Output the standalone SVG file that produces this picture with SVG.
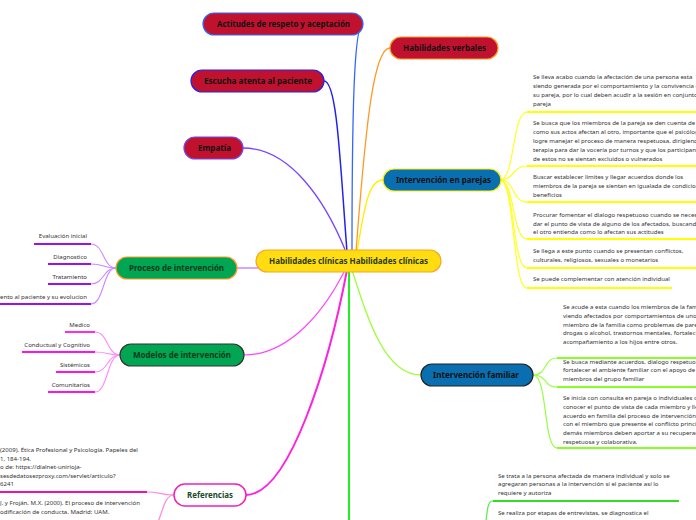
<svg xmlns="http://www.w3.org/2000/svg" width="696" height="520" viewBox="0 0 696 520">
<style>
.n{font-family:"Noto Sans","Open Sans",sans-serif;font-weight:bold;font-size:9px;text-anchor:middle}
.s{font-family:"Noto Sans","Open Sans",sans-serif;font-size:6.05px;fill:#333}
.e{text-anchor:end}
.c{fill:none}
</style>
<rect width="696" height="520" fill="#fff"/>
<g id="connectors" class="c">
  <path d="M363,24 C355,24 352,90 352,252" stroke="#3366ff" stroke-width="1.3"/>
  <path d="M324,81 C337,81 340,160 347,252" stroke="#2222ee" stroke-width="1.5"/>
  <path d="M243,148 C290,148 325,200 346,252" stroke="#7744ff" stroke-width="1.3"/>
  <path d="M390,48 C374,48 366,120 356,252" stroke="#ff9922" stroke-width="1.3"/>
  <path d="M383,180 C368,180 364,210 357,252" stroke="#ffee00" stroke-width="1.3"/>
  <path d="M237,268 L300,268" stroke="#cc88ff" stroke-width="1.5"/>
  <path d="M244,355 C290,355 325,310 345,270" stroke="#ff44ff" stroke-width="1.2"/>
  <path d="M246,495 C290,495 330,360 347,270" stroke="#ff22dd" stroke-width="2"/>
  <path d="M349,268 L349,520" stroke="#22ee22" stroke-width="2"/>
  <path d="M421,375 C385,375 368,320 352,270" stroke="#99ff33" stroke-width="1.3"/>
  <g stroke="#ffff22" stroke-width="1.2">
    <path d="M500,180 C515,180 512,112 527,112"/>
    <path d="M500,180 C515,180 512,166 527,166"/>
    <path d="M500,180 C515,180 512,202 527,202"/>
    <path d="M500,180 C515,180 512,239 527,239"/>
    <path d="M500,180 C515,180 512,268 527,268"/>
    <path d="M500,180 C515,180 512,288 527,288"/>
  </g>
  <g stroke="#ffff00" stroke-width="2">
    <path d="M527,112 L696,112"/><path d="M527,166 L696,166"/><path d="M527,202 L696,202"/>
    <path d="M527,239 L696,239"/><path d="M527,268 L696,268"/><path d="M527,288 L672,288"/>
  </g>
  <g stroke="#99ff44" stroke-width="1.2">
    <path d="M533,375 C548,375 543,358 557,358"/>
    <path d="M533,375 C548,375 543,387 557,387"/>
    <path d="M533,375 C548,375 543,448 557,448"/>
  </g>
  <g stroke="#88ff22" stroke-width="2">
    <path d="M557,358 L696,358"/><path d="M557,387 L696,387"/><path d="M557,448 L696,448"/>
  </g>
  <path d="M493,501 C486,501 488,515 485,525" stroke="#55ee44" stroke-width="1.2"/>
  <path d="M493,501 L679,501" stroke="#33dd22" stroke-width="2"/>
  <g stroke="#cc88ff" stroke-width="1.1">
    <path d="M116,268 C103,268 104,244 91,244"/>
    <path d="M116,268 C103,268 104,264 91,264"/>
    <path d="M116,268 C103,268 104,284 91,284"/>
    <path d="M116,268 C103,268 104,304 91,304"/>
  </g>
  <g stroke="#9911ee" stroke-width="1.8">
    <path d="M34,244 L91,244"/><path d="M48,264 L91,264"/><path d="M48,284 L91,284"/><path d="M0,304 L91,304"/>
  </g>
  <g stroke="#ff88ff" stroke-width="1.1">
    <path d="M120,355 C107,355 108,332 95,332"/>
    <path d="M120,355 C107,355 108,352 95,352"/>
    <path d="M120,355 C107,355 108,372 95,372"/>
    <path d="M120,355 C107,355 108,392 95,392"/>
  </g>
  <g stroke="#ff11ee" stroke-width="1.8">
    <path d="M65,332 L95,332"/><path d="M22,352 L95,352"/><path d="M56,372 L95,372"/><path d="M48,392 L95,392"/>
  </g>
  <path d="M174,495 C160,495 160,492 147,492" stroke="#ff88dd" stroke-width="1.2"/>
  <path d="M174,495 C165,495 163,510 158,522" stroke="#ff88dd" stroke-width="1.2"/>
  <path d="M0,492 L147,492" stroke="#ee11aa" stroke-width="2"/>
</g>

<g id="center">
  <rect x="256" y="250" width="185" height="22" rx="11" fill="#ffdd11" stroke="#f5a623" stroke-width="1.2"/>
  <text class="n" x="348.5" y="264.3" fill="#2a3b14" textLength="159" lengthAdjust="spacingAndGlyphs">Habilidades clínicas Habilidades clínicas</text>
</g>
<g id="actitudes">
  <rect x="203" y="13" width="160" height="22" rx="11" fill="#c0122f" stroke="#3366ff" stroke-width="1.2"/>
  <text class="n" x="283.5" y="27.3" fill="#111" textLength="133" lengthAdjust="spacingAndGlyphs">Actitudes de respeto y aceptación</text>
</g>
<g id="verbales">
  <rect x="390" y="37" width="108" height="22" rx="11" fill="#c0122f" stroke="#ff9922" stroke-width="1.2"/>
  <text class="n" x="444.5" y="51.3" fill="#111" textLength="83" lengthAdjust="spacingAndGlyphs">Habilidades verbales</text>
</g>
<g id="escucha">
  <rect x="191" y="70" width="133" height="22" rx="11" fill="#c0122f" stroke="#2222ee" stroke-width="1.2"/>
  <text class="n" x="258" y="84.3" fill="#111" textLength="108" lengthAdjust="spacingAndGlyphs">Escucha atenta al paciente</text>
</g>
<g id="empatia">
  <rect x="184" y="137" width="59" height="22" rx="11" fill="#c0122f" stroke="#7744ee" stroke-width="1.2"/>
  <text class="n" x="214.5" y="151.3" fill="#111" textLength="33" lengthAdjust="spacingAndGlyphs">Empatía</text>
</g>
<g id="parejas">
  <rect x="383" y="169" width="118" height="22" rx="11" fill="#0a6fb0" stroke="#ffee00" stroke-width="1.2"/>
  <text class="n" x="443.5" y="183.3" fill="#111" textLength="95" lengthAdjust="spacingAndGlyphs">Intervención en parejas</text>
</g>
<g id="proceso">
  <rect x="116" y="257" width="121" height="22" rx="11" fill="#00a651" stroke="#ff9922" stroke-width="1.2"/>
  <text class="n" x="176.5" y="271.3" fill="#0b3a1c" textLength="95" lengthAdjust="spacingAndGlyphs">Proceso de intervención</text>
</g>
<g id="modelos">
  <rect x="120" y="344" width="124" height="22" rx="11" fill="#00a651" stroke="#333" stroke-width="1.2"/>
  <text class="n" x="182" y="358.3" fill="#0b3a1c" textLength="98" lengthAdjust="spacingAndGlyphs">Modelos de intervención</text>
</g>
<g id="familiar">
  <rect x="421" y="364" width="112" height="22" rx="11" fill="#0a6fb0" stroke="#222" stroke-width="1.2"/>
  <text class="n" x="476" y="378.3" fill="#111" textLength="86" lengthAdjust="spacingAndGlyphs">Intervención familiar</text>
</g>
<g id="referencias">
  <rect x="174" y="484" width="72" height="22" rx="11" fill="#fff" stroke="#ee22bb" stroke-width="1.5"/>
  <text class="n" x="210" y="498.3" fill="#1a4a2a" textLength="46" lengthAdjust="spacingAndGlyphs">Referencias</text>
</g>

<g id="parejas-items" class="s">
  <text x="533" y="79">Se lleva acabo cuando la afectación de una persona esta</text>
  <text x="533" y="88">siendo generada por el comportamiento y la convivencia con</text>
  <text x="533" y="97">su pareja, por lo cual deben acudir a la sesión en conjunto</text>
  <text x="533" y="106">pareja</text>
  <text x="533" y="125">Se busca que los miembros de la pareja se den cuenta de</text>
  <text x="533" y="134">como sus actos afectan al otro, importante que el psicólogo</text>
  <text x="533" y="143">logre manejar el proceso de manera respetuosa, dirigiendo</text>
  <text x="533" y="152">terapia para dar la vocería por turnos y que los participantes</text>
  <text x="533" y="161">de estos no se sientan excluidos o vulnerados</text>
  <text x="533" y="179">Buscar establecer limites y llegar acuerdos donde los</text>
  <text x="533" y="188">miembros de la pareja se sientan en igualada de condiciones</text>
  <text x="533" y="197">beneficios</text>
  <text x="533" y="217">Procurar fomentar el dialogo respetuoso cuando se necesite</text>
  <text x="533" y="226">dar el punto de vista de alguno de los afectados, buscando</text>
  <text x="533" y="234">el otro entienda como lo afectan sus actitudes</text>
  <text x="533" y="253">Se llega a este punto cuando se presentan conflictos,</text>
  <text x="533" y="262">culturales, religiosos, sexuales o monetarios</text>
  <text x="533" y="281">Se puede complementar con atención individual</text>
</g>
<g id="familiar-items" class="s">
  <text x="563" y="309">Se acude a esta cuando los miembros de la familia</text>
  <text x="563" y="318">viendo afectados por comportamientos de uno o</text>
  <text x="563" y="327">miembro de la familia como problemas de pareja</text>
  <text x="563" y="335">drogas o alcohol, trastornos mentales, fortalecimiento</text>
  <text x="563" y="344">acompañamiento a los hijos entre otros.</text>
  <text x="563" y="364">Se busca mediante acuerdos, dialogo respetuoso</text>
  <text x="563" y="372">fortalecer el ambiente familiar con el apoyo de todos</text>
  <text x="563" y="381">miembros del grupo familiar</text>
  <text x="563" y="400">Se inicia con consulta en pareja o individuales con</text>
  <text x="563" y="409">conocer el punto de vista de cada miembro y llegar</text>
  <text x="563" y="418">acuerdo en familia del proceso de intervención a</text>
  <text x="563" y="426">con el miembro que presente el conflicto principal</text>
  <text x="563" y="435">demás miembros deben aportar a su recuperación</text>
  <text x="563" y="444">respetuosa y colaborativa.</text>
</g>
<g id="individual-items" class="s">
  <text x="498" y="478">Se trata a la persona afectada de manera individual y solo se</text>
  <text x="498" y="486">agregaran personas a la intervención si el paciente así lo</text>
  <text x="498" y="495">requiere y autoriza</text>
  <text x="498" y="515">Se realiza por etapas de entrevistas, se diagnostica el</text>
</g>
<g id="proceso-items" class="s e">
  <text x="87" y="238">Evaluación inicial</text>
  <text x="87" y="259">Diagnostico</text>
  <text x="87" y="279">Tratamiento</text>
  <text x="87" y="299">Seguimiento al paciente y su evolucion</text>
</g>
<g id="modelos-items" class="s e">
  <text x="90" y="327">Medico</text>
  <text x="90" y="347">Conductual y Cognitivo</text>
  <text x="90" y="367">Sistémicos</text>
  <text x="90" y="387">Comunitarios</text>
</g>
<g id="referencias-items" class="s">
  <text x="0" y="452">(2009). Ética Profesional y Psicología. Papeles del</text>
  <text x="0" y="461">1, 184-194.</text>
  <text x="0" y="469">o de: https://dialnet-unirioja-</text>
  <text x="0" y="478">sesdedatosezproxy.com/servlet/articulo?</text>
  <text x="0" y="486">6241</text>
  <text x="0" y="505">J. y Froján, M.X. (2000). El proceso de intervención</text>
  <text x="0" y="514">odificación de conducta. Madrid: UAM.</text>
</g>
</svg>
